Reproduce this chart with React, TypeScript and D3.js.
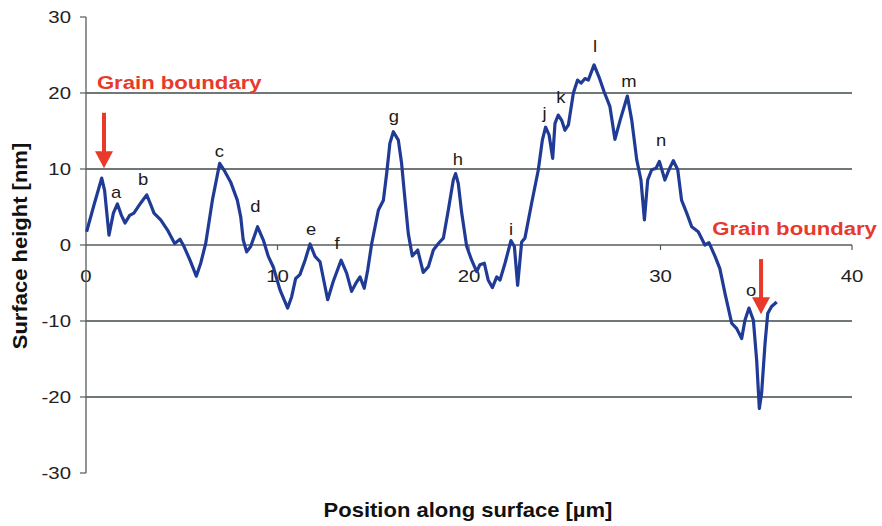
import React from "react";
import * as d3 from "d3";

const W = 882;
const H = 526;

// Profile trace: position [µm], height [nm]
const posX: number[] = [
  0.03, 0.42, 0.82, 0.97, 1.2, 1.43, 1.64, 1.85, 2.04, 2.28, 2.5, 2.85, 3.17, 3.38, 3.55, 3.9,
  4.25, 4.63, 4.91, 5.12, 5.43, 5.76, 5.99, 6.25, 6.6, 6.98, 7.2, 7.55, 7.9, 8.08, 8.21, 8.39,
  8.6, 8.96, 9.26, 9.52, 9.78, 10.13, 10.53, 10.74, 10.95, 11.17, 11.44, 11.7, 11.96, 12.22,
  12.62, 12.91, 13.32, 13.61, 13.87, 14.1, 14.31, 14.53, 14.71, 14.92, 15.27, 15.53, 15.7,
  15.87, 16.05, 16.31, 16.48, 16.66, 16.83, 17.04, 17.32, 17.61, 17.88, 18.14, 18.4, 18.66,
  18.92, 19.18, 19.3, 19.44, 19.62, 19.88, 20.14, 20.4, 20.57, 20.8, 21.0, 21.22, 21.45, 21.62,
  21.88, 22.19, 22.37, 22.54, 22.75, 22.92, 23.27, 23.62, 23.83, 24.0, 24.18, 24.37, 24.49,
  24.66, 24.84, 25.01, 25.19, 25.45, 25.67, 25.85, 26.06, 26.23, 26.53, 26.79, 27.05, 27.36,
  27.62, 27.89, 28.27, 28.5, 28.76, 28.98, 29.16, 29.33, 29.54, 29.77, 29.94, 30.23, 30.44,
  30.67, 30.9, 31.1, 31.37, 31.63, 31.97, 32.32, 32.53, 32.85, 33.1, 33.37, 33.72, 33.98,
  34.24, 34.41, 34.62, 34.85, 35.02, 35.16, 35.28, 35.46, 35.6, 35.8, 36.07,
];
const heightY: number[] = [
  1.75, 5.3, 8.8, 7.2, 1.3, 4.2, 5.4, 3.9, 2.9, 3.9, 4.2, 5.5, 6.6, 5.3, 4.2, 3.3,
  2.0, 0.2, 0.75, -0.2, -2.0, -4.1, -2.4, 0.2, 5.9, 10.75, 9.9, 8.3, 5.9, 3.7, 0.65, -0.9,
  -0.2, 2.4, 0.65, -1.5, -2.9, -5.9, -8.3, -6.8, -4.4, -3.9, -2.0, 0.13, -1.5, -2.2,
  -7.2, -4.8, -2.0, -3.7, -6.1, -5.0, -4.2, -5.7, -3.3, 0.2, 4.6, 5.9, 9.4,
  13.4, 14.9, 13.8, 10.75, 5.9, 1.5, -1.45, -0.65, -3.6, -2.85, -0.65, 0.2, 0.9,
  4.6, 8.55, 9.4, 8.1, 4.2, -0.2, -2.0, -3.5, -2.6, -2.4, -4.6, -5.6, -4.2, -4.6,
  -2.4, 0.57, -0.2, -5.3, 0.4, 0.9, 5.5, 9.9, 13.8, 15.5, 14.5, 11.4, 16.0,
  17.1, 16.4, 15.1, 15.8, 20.0, 21.7, 21.3, 21.9, 21.7, 23.7, 22.1, 20.2, 18.2,
  13.9, 16.4, 19.6, 16.4, 11.2, 8.55, 3.3, 8.55, 9.9, 10.1, 11.0, 8.55, 9.9,
  11.1, 9.9, 5.9, 4.2, 2.4, 1.75, 0.0, 0.3, -1.5, -3.1, -6.4, -10.3, -11.0,
  -12.3, -9.9, -8.3, -9.9, -15.1, -21.5, -19.5, -12.9, -9.0, -8.1, -7.5,
];

const yTicks: number[] = [-30, -20, -10, 0, 10, 20, 30];
const xTicks: number[] = [0, 10, 20, 30, 40];
const gridValues: number[] = [-20, -10, 10, 20];

const peakNames: string[] = ["a", "b", "c", "d", "e", "f", "g", "h", "i", "j", "k", "l", "m", "n", "o"];
const peakLabelX: number[] = [1.57, 2.98, 6.97, 8.85, 11.75, 13.11, 16.08, 19.42, 22.19, 23.95, 24.8, 26.58, 28.35, 30.03, 34.73];
const peakLabelY: number[] = [6.2, 7.9, 11.6, 4.3, 1.3, -0.5, 16.2, 10.5, 1.3, 16.6, 18.7, 25.4, 20.8, 13.0, -6.7];

const gbText: string[] = ["Grain boundary", "Grain boundary"];
const gbTextX: number[] = [0.57, 32.7];
const gbTextY: number[] = [20.5, 1.3];
const gbArrowX: number[] = [0.94, 35.25];
const gbArrowTop: number[] = [17.4, -1.85];
const gbArrowTip: number[] = [10.1, -9.1];

const x = d3.scaleLinear().domain([0, 40]).range([86, 852]);
const y = d3.scaleLinear().domain([-30, 30]).range([473, 17]);

const RED = "#e8392b";
const FONT = "Arial, 'Liberation Sans', sans-serif";
const SX = 1.2;

function T(props: {
  x: number;
  y: number;
  size: number;
  anchor?: string;
  bold?: boolean;
  fill: string;
  sx?: number;
  children: React.ReactNode;
}) {
  const s = props.sx ?? SX;
  return (
    <text
      transform={`translate(${props.x},${props.y}) scale(${s},1)`}
      fontSize={props.size}
      textAnchor={props.anchor ?? "start"}
      fontWeight={props.bold ? "bold" : "normal"}
      fill={props.fill}
    >
      {props.children}
    </text>
  );
}

export default function App() {
  const pts: [number, number][] = posX.map((v, i) => [v, heightY[i]]);
  const line = d3
    .line<[number, number]>()
    .x((d) => x(d[0]))
    .y((d) => y(d[1]))
    .curve(d3.curveLinear);

  return (
    <svg
      width={W}
      height={H}
      style={{ position: "fixed", left: 0, top: 0, background: "#fff" }}
      fontFamily={FONT}
    >
      <rect x={0} y={0} width={W} height={H} fill="#fff" />
      {gridValues.map((g) => (
        <line key={g} x1={x(0)} x2={x(40)} y1={y(g)} y2={y(g)} stroke="#3f4a4a" strokeWidth={1.3} />
      ))}
      <line x1={x(0)} x2={x(40)} y1={y(0)} y2={y(0)} stroke="#555b5b" strokeWidth={1.3} />
      {xTicks.slice(1).map((t) => (
        <line key={t} x1={x(t)} x2={x(t)} y1={y(0)} y2={y(0) + 5} stroke="#555b5b" strokeWidth={1.2} />
      ))}
      {xTicks.map((t) => (
        <T key={t} x={x(t)} y={y(0) + 37} size={17} anchor="middle" fill="#222">
          {t}
        </T>
      ))}
      <line x1={x(0)} x2={x(0)} y1={y(30)} y2={y(-30)} stroke="#555b5b" strokeWidth={1.3} />
      {yTicks.map((t) => (
        <g key={t}>
          <line x1={x(0) - 6} x2={x(0)} y1={y(t)} y2={y(t)} stroke="#555b5b" strokeWidth={1.2} />
          <T x={x(0) - 15} y={y(t) + 6} size={17} anchor="end" fill="#222">
            {t}
          </T>
        </g>
      ))}
      <path d={line(pts) || ""} fill="none" stroke="#203b96" strokeWidth={3.2} strokeLinejoin="round" />
      {peakNames.map((n, i) => (
        <T key={n} x={x(peakLabelX[i])} y={y(peakLabelY[i])} size={16} anchor="middle" fill="#1a1a1a" sx={1.15}>
          {n}
        </T>
      ))}
      {gbText.map((t, i) => (
        <T key={i} x={x(gbTextX[i])} y={y(gbTextY[i])} size={18} bold fill={RED} sx={1.23}>
          {t}
        </T>
      ))}
      {gbArrowX.map((ax, i) => {
        const cx = x(ax);
        const top = y(gbArrowTop[i]);
        const tip = y(gbArrowTip[i]);
        return (
          <g key={i}>
            <line x1={cx} x2={cx} y1={top} y2={tip - 12} stroke={RED} strokeWidth={4} />
            <path d={`M${cx - 9},${tip - 17} L${cx + 9},${tip - 17} L${cx},${tip} Z`} fill={RED} />
          </g>
        );
      })}
      <text
        transform={`translate(27, 246) rotate(-90) scale(1.1,1)`}
        textAnchor="middle"
        fontSize={20}
        fontWeight="bold"
        fill="#111"
      >
        Surface height [nm]
      </text>
      <T x={468} y={517} size={20} anchor="middle" bold fill="#111" sx={1.1}>
        Position along surface [µm]
      </T>
    </svg>
  );
}
